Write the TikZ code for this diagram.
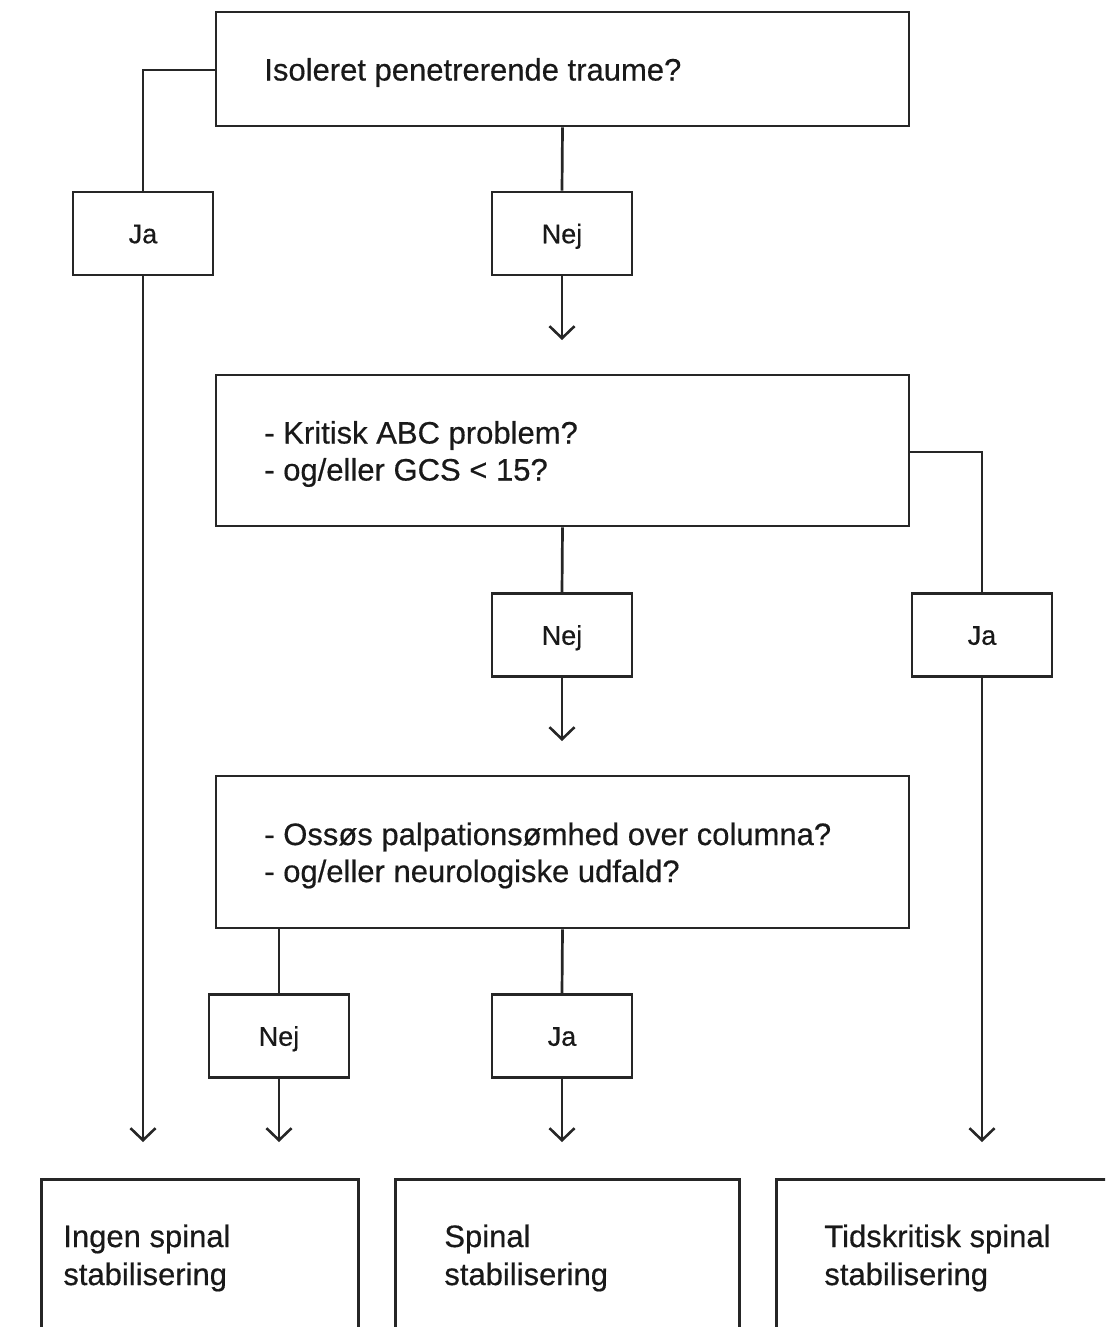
\documentclass[tikz,border=0pt]{standalone}
\usepackage{fontspec}
\setmainfont{Liberation Sans}
\newfontfamily\medfont{Liberation Sans}[FakeBold=0.45]
\usetikzlibrary{arrows.meta}
\begin{document}
\begin{tikzpicture}[x=1pt,y=-1pt,
  line width=2.7pt, draw=black!85,
  qbox/.style={draw, rectangle, minimum width=693pt, inner sep=0pt},
  qtext/.style={anchor=west, align=left, inner sep=0pt, font=\medfont\fontsize{31}{37}\selectfont},
  ansbox/.style={draw, rectangle, minimum width=140pt, minimum height=83pt, inner sep=0pt,
     text height=19.5pt, text depth=0pt, font=\medfont\fontsize{27}{32}\selectfont},
  endbox/.style={draw, rectangle, anchor=north west, minimum height=300pt, inner sep=0pt},
  endtext/.style={anchor=west, align=left, inner sep=0pt, font=\medfont\fontsize{31}{38}\selectfont},
  arr/.style={-{Straight Barb[length=12pt,width=25pt,line width=2.6pt]}},
  every node/.style={text=black!90}
]
\clip (0,0) rectangle (1105,1327);
\fill[white] (0,0) rectangle (1105,1327);

% question boxes
\node[qbox, minimum height=114pt] (q1) at (562.5,69) {};
\node[qbox, minimum height=151pt] (q2) at (562.5,450.5) {};
\node[qbox, minimum height=152pt] (q3) at (562.5,852) {};
\node[qtext] (q1t) at (263,72.5) {Isoleret penetrerende traume?};
\node[qtext] (q2t) at (263,454) {- Kritisk ABC problem?\\- og/eller GCS < 15?};
\node[qtext] (q3t) at (263,855.5) {- Ossøs palpationsømhed over columna?\\- og/eller neurologiske udfald?};

% answer boxes
\node[ansbox] (ja1) at (143,233.5) {Ja};
\node[ansbox] (nej1) at (562,233.5) {Nej};
\node[ansbox] (nej2) at (562,635) {Nej};
\node[ansbox] (ja2) at (982,635) {Ja};
\node[ansbox] (nej3) at (279,1036) {Nej};
\node[ansbox] (ja3) at (562,1036) {Ja};

% end boxes
\node[endbox, minimum width=317pt] (r1) at (40,1178) {};
\node[endbox, minimum width=344pt] (r2) at (394,1178) {};
\node[endbox, minimum width=360pt] (r3) at (775,1178) {};
\node[endtext] (t1) at (62,1258) {Ingen spinal\\stabilisering};
\node[endtext] (t2) at (443,1258) {Spinal\\stabilisering};
\node[endtext] (t3) at (823,1258) {Tidskritisk spinal\\stabilisering};

% free ends of arrows
\coordinate (a1) at (562,340);
\coordinate (a2) at (562,741);
\coordinate (e1) at (143,1142);
\coordinate (e2) at (279,1142);
\coordinate (e3) at (562,1142);
\coordinate (e4) at (982,1142);

% connectors
\draw ([yshift=-1pt]q1.west) -| (ja1.north);
\draw (q1.south) -- (nej1.north);
\draw[arr] (nej1.south) -- (a1);
\draw ([yshift=-1.5pt]q2.east) -| (ja2.north);
\draw (q2.south) -- (nej2.north);
\draw[arr] (nej2.south) -- (a2);
\draw (nej3.north |- q3.south) -- (nej3.north);
\draw (q3.south) -- (ja3.north);
\draw[arr] (ja1.south) -- (e1);
\draw[arr] (nej3.south) -- (e2);
\draw[arr] (ja3.south) -- (e3);
\draw[arr] (ja2.south) -- (e4);
\end{tikzpicture}
\end{document}
